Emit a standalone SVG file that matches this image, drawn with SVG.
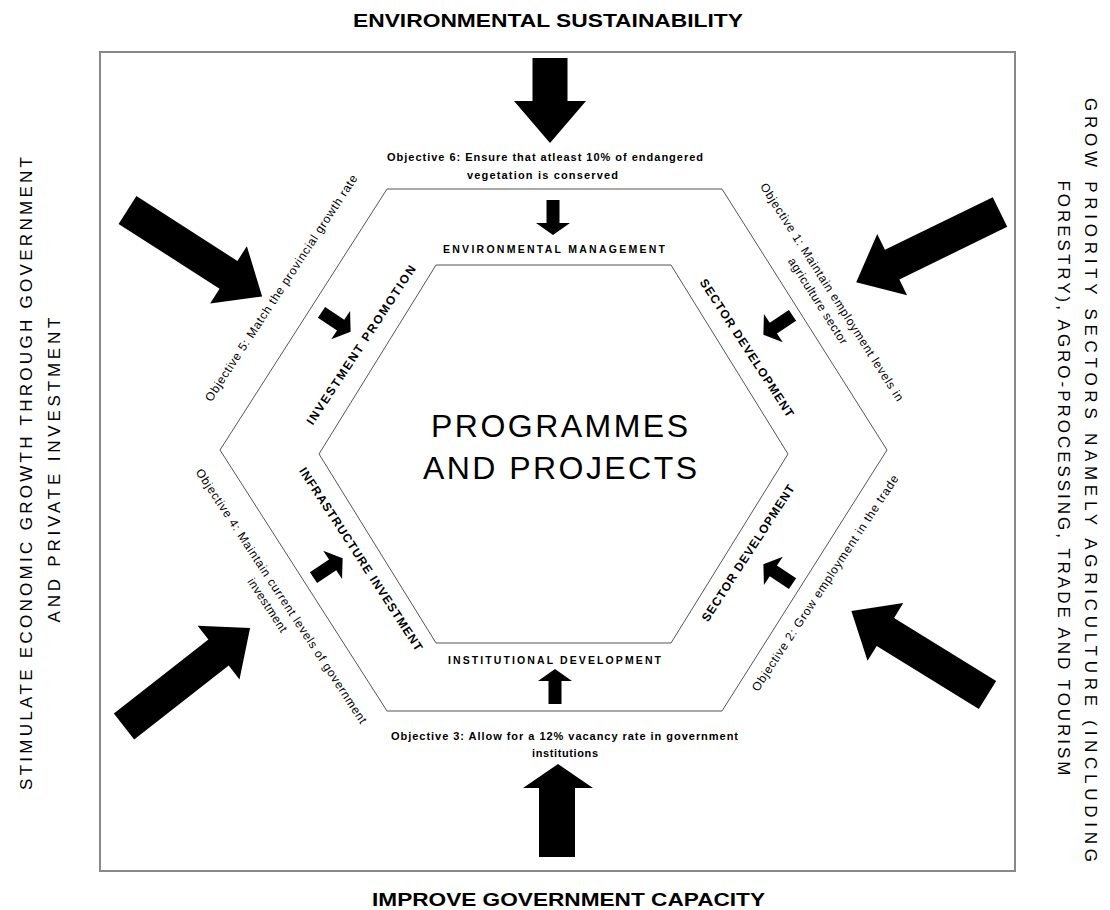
<svg xmlns="http://www.w3.org/2000/svg" width="1110" height="910" viewBox="0 0 1110 910">
<style>
text{font-family:"Liberation Sans",Arial,sans-serif;fill:#000}
.title{font-size:18px;font-weight:bold}
.side{font-size:17px}
.obj{font-size:12px}
.objb{font-size:11px;font-weight:bold}
.lab{font-size:12px;font-weight:bold}
.hlab{font-size:10.5px;font-weight:bold}
.main{font-size:32px}
.hex{fill:none;stroke:#555;stroke-width:1}
.frame{fill:none;stroke:#888;stroke-width:2}
.arr{fill:#000}
</style>
<defs>
<polygon id="bigArrow" points="0,-16.5 120,-16.5 120,-34 160,0 120,34 120,16.5 0,16.5"/>
<polygon id="smallArrow" points="0,-6.5 23,-6.5 23,-17 35,0 23,17 23,6.5 0,6.5"/>
</defs>
<rect id="frame" class="frame" x="100" y="52" width="915" height="819"/>
<g id="titles">
<text class="title" x="548" y="27" text-anchor="middle" textLength="390" lengthAdjust="spacingAndGlyphs">ENVIRONMENTAL SUSTAINABILITY</text>
<text class="title" x="568.5" y="906" text-anchor="middle" textLength="393" lengthAdjust="spacingAndGlyphs" style="font-size:19px">IMPROVE GOVERNMENT CAPACITY</text>
<g transform="translate(32,473.5) rotate(-90)"><text class="side" x="0" y="0" text-anchor="middle" textLength="633" lengthAdjust="spacing">STIMULATE ECONOMIC GROWTH THROUGH GOVERNMENT</text></g>
<g transform="translate(60,470) rotate(-90)"><text class="side" x="0" y="0" text-anchor="middle" textLength="305" lengthAdjust="spacing">AND PRIVATE INVESTMENT</text></g>
<g transform="translate(1085,480) rotate(90)"><text class="side" x="0" y="0" text-anchor="middle" textLength="764" lengthAdjust="spacing">GROW PRIORITY SECTORS NAMELY AGRICULTURE (INCLUDING</text></g>
<g transform="translate(1058,478) rotate(90)"><text class="side" x="0" y="0" text-anchor="middle" textLength="595" lengthAdjust="spacing">FORESTRY), AGRO-PROCESSING, TRADE AND TOURISM</text></g>
</g>
<g id="outer-hexagon">
<polygon class="hex" points="387,189 722,189 887,450 722,711 387,711 220,450"/>
</g>
<g id="inner-hexagon">
<polygon class="hex" points="436,265 671,265 788,454 671,643 436,643 319,454"/>
<text class="main" x="559.5" y="437" text-anchor="middle" textLength="257" lengthAdjust="spacing">PROGRAMMES</text>
<text class="main" x="560" y="479" text-anchor="middle" textLength="274" lengthAdjust="spacing">AND PROJECTS</text>
</g>
<g id="objective-6">
<text class="objb" x="545" y="161" text-anchor="middle" textLength="316" lengthAdjust="spacing">Objective 6: Ensure that atleast 10% of endangered</text>
<text class="objb" x="542.5" y="179" text-anchor="middle" textLength="151" lengthAdjust="spacing">vegetation is conserved</text>
</g>
<g id="objective-3">
<text class="objb" x="564.5" y="740" text-anchor="middle" textLength="347" lengthAdjust="spacing">Objective 3: Allow for a 12% vacancy rate in government</text>
<text class="objb" x="565" y="757" text-anchor="middle" textLength="66" lengthAdjust="spacing">institutions</text>
</g>
<g id="objective-5" transform="translate(281,288) rotate(-56.8)">
<text class="obj" x="0" y="0" dy="0.35em" text-anchor="middle" textLength="268" lengthAdjust="spacing">Objective 5: Match the provincial growth rate</text>
</g>
<g id="objective-1" transform="translate(825,296.5) rotate(57.5)">
<text class="obj" x="0" y="-8.3" dy="0.35em" text-anchor="middle" textLength="256" lengthAdjust="spacing">Objective 1: Maintain employment levels in</text>
<text class="obj" x="0" y="8.3" dy="0.35em" text-anchor="middle" textLength="100" lengthAdjust="spacing">agriculture sector</text>
</g>
<g id="objective-4" transform="translate(274.5,600.5) rotate(56.8)">
<text class="obj" x="0" y="-8.3" dy="0.35em" text-anchor="middle" textLength="302" lengthAdjust="spacing">Objective 4: Maintain current levels of government</text>
<text class="obj" x="0" y="8.3" dy="0.35em" text-anchor="middle" textLength="62" lengthAdjust="spacing">investment</text>
</g>
<g id="objective-2" transform="translate(825,583) rotate(-56.6)">
<text class="obj" x="0" y="0" dy="0.35em" text-anchor="middle" textLength="256" lengthAdjust="spacing">Objective 2: Grow employment in the trade</text>
</g>
<g id="environmental-management">
<text class="hlab" x="554" y="253" text-anchor="middle" textLength="222" lengthAdjust="spacing">ENVIRONMENTAL MANAGEMENT</text>
</g>
<g id="institutional-development">
<text class="hlab" x="554.5" y="664" text-anchor="middle" textLength="213" lengthAdjust="spacing">INSTITUTIONAL DEVELOPMENT</text>
</g>
<g id="investment-promotion" transform="translate(361,345) rotate(-56.6)">
<text class="lab" x="0" y="0" dy="0.35em" text-anchor="middle" textLength="188" lengthAdjust="spacing">INVESTMENT PROMOTION</text>
</g>
<g id="sector-development-1" transform="translate(747,348) rotate(57)">
<text class="lab" x="0" y="0" dy="0.35em" text-anchor="middle" textLength="162" lengthAdjust="spacing">SECTOR DEVELOPMENT</text>
</g>
<g id="infrastructure-investment" transform="translate(361,559) rotate(57)">
<text class="lab" x="0" y="0" dy="0.35em" text-anchor="middle" textLength="216" lengthAdjust="spacing">INFRASTRUCTURE INVESTMENT</text>
</g>
<g id="sector-development-2" transform="translate(748,553) rotate(-57)">
<text class="lab" x="0" y="0" dy="0.35em" text-anchor="middle" textLength="160" lengthAdjust="spacing">SECTOR DEVELOPMENT</text>
</g>
<g id="connectors" class="arr">
<polygon points="532.5,58 567.5,58 567.5,101 586,101 550,143 514,101 532.5,101"/>
<polygon points="539,857 539,788 523,788 558,764 593,788 575,788 575,857"/>
<use href="#bigArrow" transform="translate(127.5,210) rotate(32.7)"/>
<use href="#bigArrow" transform="translate(1000,212) rotate(154)"/>
<use href="#bigArrow" transform="translate(124,726.5) rotate(-38)"/>
<use href="#bigArrow" transform="translate(987.5,695) rotate(-148.3)"/>
<use href="#smallArrow" transform="translate(553,200) rotate(90)"/>
<use href="#smallArrow" transform="translate(555,704) rotate(-90)"/>
<use href="#smallArrow" transform="translate(321.5,312.4) rotate(33.7)"/>
<use href="#smallArrow" transform="translate(792.5,315.4) rotate(146.3)"/>
<use href="#smallArrow" transform="translate(313.5,577.6) rotate(-33.7)"/>
<use href="#smallArrow" transform="translate(792.5,583.6) rotate(-146.3)"/>
</g>
</svg>
